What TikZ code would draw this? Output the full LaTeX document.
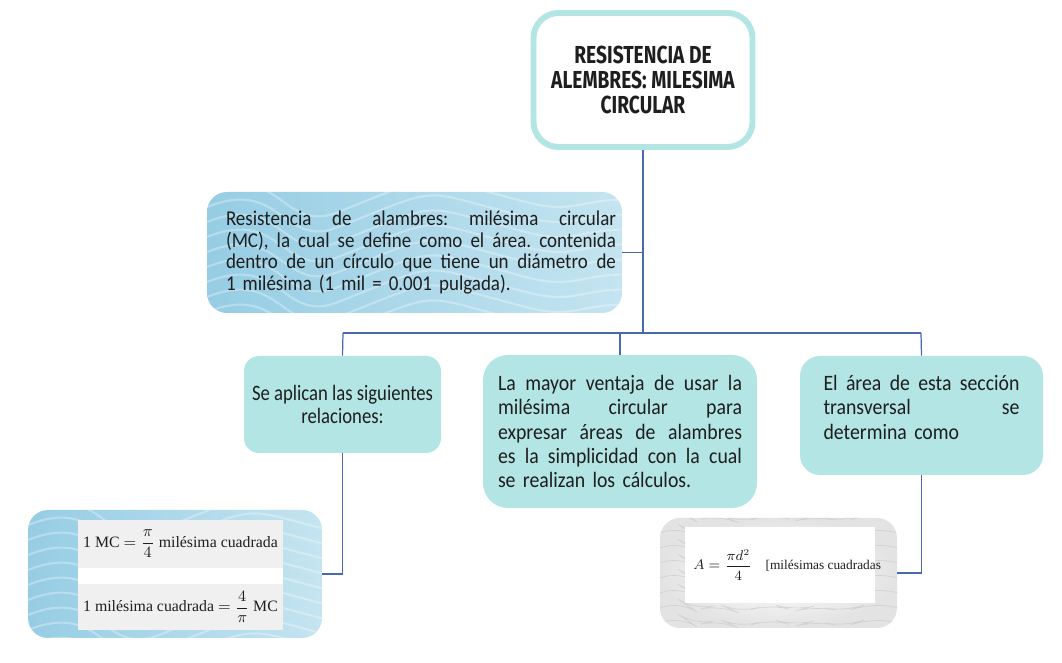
\documentclass[tikz,border=0pt]{standalone}
\usepackage{fontspec}
\usepackage{amsmath}
\usepackage{xcolor}
\setmainfont{Carlito}
\newfontfamily\titlefont[FakeStretch=0.78]{Fira Sans}
\newfontfamily\bodyfont[FakeStretch=0.9]{Carlito}
\newfontfamily\narrowfont[FakeStretch=0.85]{Carlito}
\newfontfamily\formfont{Liberation Serif}
\hyphenpenalty=10000
\exhyphenpenalty=10000
\frenchspacing

\definecolor{boxcyan}{RGB}{179,229,228}
\definecolor{linkblue}{RGB}{72,106,170}
\definecolor{marbleA}{RGB}{150,205,228}
\definecolor{marbleB}{RGB}{196,228,240}
\definecolor{panelgray}{RGB}{240,240,240}
\definecolor{inktext}{RGB}{30,30,30}

% one justified line of a box
\newcommand{\jline}[2]{\makebox[#1][s]{\spaceskip=0pt\xspaceskip=0pt #2}}

\begin{document}
\begin{tikzpicture}[
  font=\bodyfont\fontsize{12.5}{13.9}\selectfont, text=inktext,
  titlebox/.style={draw=boxcyan, line width=3.4pt, rounded corners=0.5cm,
    fill=white, minimum width=4.38cm, minimum height=2.68cm, align=center,
    font=\titlefont\bfseries\fontsize{14}{14.2}\selectfont},
  cbox/.style={fill=boxcyan, inner sep=0pt, align=left},
  marble/.style={rounded corners=0.4cm, left color=marbleA, right color=marbleB,
    inner sep=0pt, path picture={
      \foreach \k in {0,...,9}
        \draw[white, opacity=0.3, line width=1.2pt]
          ([yshift=-\k*0.3cm]path picture bounding box.north west)
          .. controls +(1.5,0.6) and +(-1.5,-0.6) .. ++(3,-0.25)
          .. controls +(1.5,0.6) and +(-1.5,0.4) .. ++(3,0.15)
          .. controls +(1.5,-0.4) and +(-1.5,0.2) .. ++(3,-0.1);}},
  marblegray/.style={rounded corners=0.4cm, inner color=white, outer color=gray!22,
    inner sep=0pt, path picture={
      \foreach \k in {0,...,7}
        \draw[gray!45, opacity=0.6, line width=0.4pt]
          ([yshift=-\k*0.3cm]path picture bounding box.north west)
          -- ++(0.4,0.15) -- ++(0.3,-0.2) -- ++(0.5,0.12) -- ++(0.4,-0.18)
          -- ++(0.6,0.2) -- ++(0.5,-0.15) -- ++(0.4,0.1) -- ++(0.6,-0.12)
          -- ++(0.5,0.18) -- ++(0.6,-0.1);}},
  panel/.style={fill=panelgray, inner sep=0pt, minimum width=4.1cm,
    font=\formfont\fontsize{9}{11}\selectfont},
  link/.style={linkblue, line width=0.7pt},
]
\useasboundingbox (0,0) rectangle (21.24,-13.26);

\node[titlebox] (title) at (12.86,-1.60) {RESISTENCIA DE\\ALEMBRES: MILESIMA\\CIRCULAR};

\node[marble, minimum width=8.3cm, minimum height=2.42cm, text width=8.06cm,
  align=left, font=\bodyfont\fontsize{12}{12.2}\selectfont] (intro) at (8.29,-5.05) {%
  \hfill\jline{7.8cm}{Resistencia de alambres: milésima circular}\\
  \hfill\jline{7.8cm}{(MC), la cual se define como el área. contenida}\\
  \hfill\jline{7.8cm}{dentro de un círculo que tiene un diámetro de}\\
  \hfill\makebox[7.8cm][l]{1 milésima (1 mil = 0.001 pulgada).}};

\coordinate (bar) at (12.86,-6.66);
\coordinate (barL) at (6.86,-6.66);
\coordinate (barR) at (18.42,-6.66);

\node[cbox, rounded corners=0.3cm, minimum width=3.94cm, minimum height=1.94cm,
  align=center, font=\narrowfont\fontsize{12.5}{13}\selectfont] (rel) at (6.85,-8.09)
  {Se aplican las siguientes\\relaciones:};

\node[cbox, rounded corners=0.5cm, minimum width=5.48cm, minimum height=3.06cm,
  text width=4.88cm] (ventaja) at (12.40,-8.63) {%
  \jline{4.88cm}{La mayor ventaja de usar la}\\
  \jline{4.88cm}{milésima circular para}\\
  \jline{4.88cm}{expresar áreas de alambres}\\
  \jline{4.88cm}{es la simplicidad con la cual}\\
  se realizan los cálculos.};

\node[cbox, rounded corners=0.4cm, minimum width=4.86cm, minimum height=2.38cm,
  text width=3.92cm] (area) at (18.43,-8.31) {%
  \jline{3.92cm}{El área de esta sección}\\
  \jline{3.92cm}{transversal se}\\
  determina como\\[-0.15cm]\mbox{}};

% formulas
\node[marble, minimum width=5.88cm, minimum height=2.56cm] (relL) at (3.50,-11.48) {};
\node[fill=white, minimum width=4.1cm, minimum height=2.2cm, inner sep=0pt] (relback) at (3.61,-11.50) {};
\node[panel, minimum height=0.96cm] (mc) at (3.61,-10.88)
  {1 MC $=\dfrac{\pi}{4}$ milésima cuadrada};
\node[panel, minimum height=0.92cm] (mil) at (3.61,-12.14)
  {1 milésima cuadrada $=\dfrac{4}{\pi}$ MC};

\node[marblegray, minimum width=4.74cm, minimum height=2.2cm] (areaR) at (15.57,-11.46) {};
\node[fill=white, minimum width=3.8cm, minimum height=1.52cm, inner sep=0pt] (areaback) at (15.60,-11.30) {};
\node[anchor=west, inner sep=0pt, font=\formfont\fontsize{7.6}{10}\selectfont] (formA)
  at (13.86,-11.30) {$A=\dfrac{\pi d^2}{4}$\quad[milésimas cuadradas};

\draw[link] (title.south) -- (bar);
\draw[link] (intro.east) -- (intro.east -| bar);
\draw[link] (barL) -- (barR);
\draw[link] (barL) -- (rel.north);
\draw[link] (ventaja.north |- bar) -- (ventaja.north);
\draw[link] (barR) -- (area.north);
\draw[link] (rel.south) |- (relL.east);
\draw[link] (area.south) |- (areaR.east);

\end{tikzpicture}
\end{document}
